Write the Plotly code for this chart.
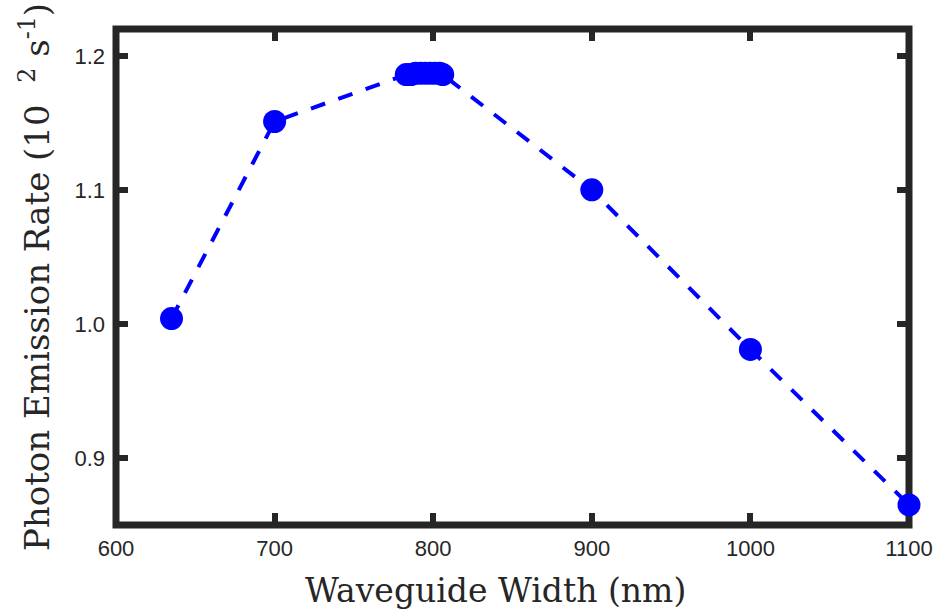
import plotly.graph_objects as go

widths = [635, 700, 783, 786, 789, 792, 795, 798, 801, 804, 806, 900, 1000, 1100]
rates = [1.004, 1.151, 1.186, 1.186, 1.187, 1.187, 1.187, 1.187, 1.187, 1.187, 1.186, 1.100, 0.981, 0.865]
x_ticks = [600, 700, 800, 900, 1000, 1100]
y_ticks = [0.9, 1.0, 1.1, 1.2]

INK = "#262626"

fig = go.Figure()
fig.add_trace(go.Scatter(
    x=widths, y=rates, mode="lines+markers",
    line=dict(color="#0000ff", width=4, dash="15px,14px"),
    marker=dict(color="#0000ff", size=23),
    cliponaxis=False, showlegend=False,
))

axis_common = dict(
    showline=False, mirror="ticks",
    ticks="inside", ticklen=12, tickwidth=6, tickcolor=INK,
    showgrid=False, zeroline=False,
    tickfont=dict(family="Liberation Sans, Arial", size=22, color=INK),
)

fig.update_xaxes(
    range=[600, 1100], tickvals=x_ticks, ticklabelstandoff=8,
    **axis_common,
)
fig.update_yaxes(
    range=[0.85, 1.22], tickvals=y_ticks, tickformat=".1f", ticklabelstandoff=10,
    title=dict(text="Photon Emission Rate (10\u00a0\u00a0<sup>2</sup> s<sup>-1</sup>)",
               font=dict(family="DejaVu Serif, serif", size=34, color=INK), standoff=14),
    **axis_common,
)

fig.add_annotation(
    text="Waveguide Width (nm)", xref="paper", yref="paper",
    x=0.478, y=-0.132, xanchor="center", yanchor="middle", showarrow=False,
    font=dict(family="DejaVu Serif, serif", size=33, color=INK),
)

fig.add_shape(type="rect", xref="paper", yref="paper", x0=0, x1=1, y0=0, y1=1,
              line=dict(color=INK, width=7), layer="below")

fig.update_layout(
    width=945, height=614,
    margin=dict(l=116, r=26, t=28.5, b=89),
    plot_bgcolor="white", paper_bgcolor="white",
)

fig.write_html("out.html")
